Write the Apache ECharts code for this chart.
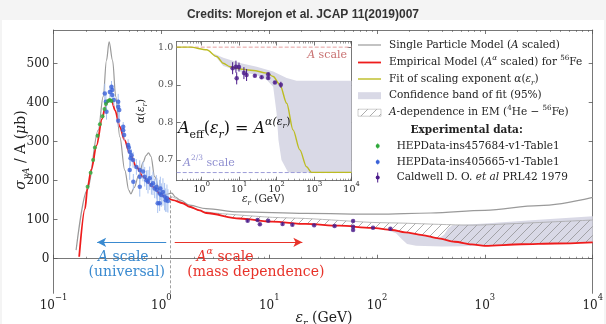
<!DOCTYPE html>
<html><head><meta charset="utf-8">
<script src="https://cdn.jsdelivr.net/npm/echarts@6/dist/echarts.min.js"></script>
<style>html,body{margin:0;padding:0;background:#f4f4f4}#c{position:relative;width:606px;height:324px}</style>
</head><body><div id="c"></div>
<script>
// ---------------- data ----------------
const redE = [0.173,0.196,0.207,0.224,0.251,0.282,0.302,0.316,0.328,0.347,0.372,0.412,0.455,0.509,0.588,0.676,0.837,0.964,1.11,1.28,1.58,1.83,2.26,2.6,5.28,10.7,21.9,44.7,89.1,138,182,263,372,525,759,1000,2188,4467,10000];
const redV = [5,128,183,228,290,358,388,401,408,404,380,338,304,270,235,210,184,167,157,150,142,133,124,117,103,95,89,84.5,79,73.5,67.5,60.6,52,43.5,36.8,33,37,39,42];
const spmE = [0.162,0.206,0.26,0.289,0.31,0.328,0.353,0.378,0.412,0.458,0.50,0.521,0.56,0.62,0.68,0.72,0.76,0.80,0.867,0.964,1.11,1.25,1.35,1.5,1.83,2.6,5.25,21.9,100,316,1000,3162,10000];
const spmV = [22,176,329,415,508,555,508,415,312,227,175,166,182,215,248,264,271,262,210,176,165,168,158,150,137,128,120,116,114,117,124,136,157];
const heE = [1.21,1.3,1.41,1.82,2.57,5.25,10.7,21.9,44.7,89.1,182,372,759,1585,3981,10000];
const heV = [160,157,152,133,120,112,106,103,98,93,91,88,86,89,94,99];
const confUpE = [89.1,138,182,263,372,420,457,500,759,1000,3162,10000];
const confUpV = [79,74,68,61,52,62,78,86,88,90,100,109];
const confLoE = [89.1,120,150,170,190,230,400,630,900,1000,2188,4467,10000];
const confLoV = [79,75,65,50,38,33,31,32,34,33,37,39,42];
const greenE = [0.207,0.221,0.233,0.242,0.256,0.269,0.285,0.297,0.306,0.321,0.333,0.345];
const greenV = [184,220,253,285,315,344,365,383,396,404,406,404];
const greenErr = [5,5,5,5,5,5,5,5,5,5,5,5];
const blueE = [0.299,0.306,0.310,0.333,0.345,0.350,0.350,0.363,0.398,0.398,0.407,0.398,0.443,0.443,0.452,0.492,0.499,0.509,0.518,0.528,0.547,0.550,0.509,0.587,0.631,0.631,0.631,0.676,0.701,0.728,0.752,0.780,0.809,0.836,0.867,0.899,0.912,0.925,0.964,0.979,1.0,1.035,1.072,1.096,1.127,1.151,0.964];
const blueV = [423,402,376,427,440,432,419,406,402,389,381,353,338,329,317,291,285,274,257,265,253,197,227,235,227,210,184,223,210,201,197,206,189,193,180,184,176,142,167,180,163,171,159,150,155,148,142];
const blueErr = [25,20,20,15,15,12,12,15,20,20,25,15,12,12,15,15,12,15,20,15,20,20,25,20,25,20,25,25,25,25,30,30,25,30,25,30,30,25,35,30,30,35,35,30,35,30,20];
const caldE = [6.31,7.80,8.20,9.79,13.3,16.4,26.1,40.4,60,60,60,91.8,133];
const caldV = [97,99,88,97,89,87,85.5,83.7,96.5,82,73.5,79,77];
const caldErr = [3,3,3,3,3,3,2,2,2,2,2,2,2];
const arrowBlue = [[1.11,42],[0.254,42]];
const arrowRed = [[1.33,42],[20.3,42]];
const thresholdE = 1.21; const thresholdTop = 175;
// Inset: scaling exponent alpha(E)
const fitE = [0.215,0.49,1.36,2.51,3.77,5.69,10.5,23.8,54,81,123,186,275,417,631,851,10000];
const fitV = [1.0,1.0,0.993,0.975,0.957,0.948,0.942,0.938,0.931,0.922,0.900,0.851,0.780,0.727,0.682,0.667,0.667];
const bandUpE = [2.0,3.77,10.5,29.5,81,186,339,10000];
const bandUpV = [0.984,0.972,0.958,0.948,0.935,0.918,0.911,0.911];
const bandLoE = [2.0,3.77,10.5,29.5,54,81,100,112,135,204,10000];
const bandLoV = [0.984,0.95,0.935,0.926,0.913,0.895,0.824,0.753,0.70,0.667,0.667];
const alphaE = [6.7,8.2,8.6,9.9,13.4,15.8,26.3,39.8,59.7,59.7,90.2,130];
const alphaV = [0.944,0.948,0.917,0.947,0.931,0.926,0.924,0.920,0.928,0.918,0.906,0.900];
const alphaErr = [0.016,0.016,0.016,0.012,0.016,0.016,0.004,0.004,0.004,0.004,0.004,0.008];
const refLevels = [1.0, 2/3];
// ticks
const mainYTicks = [0,100,200,300,400,500];
const mainXTicks = [0.1,1,10,100,1000,10000];
const insetXTicks = [1,10,100,1000,10000];
const insetYTicks = [0.7,0.8,0.9,1.0];

// ---------------- helpers ----------------
const F = 'DejaVu Serif';
const zip = (a,b,c) => a.map((v,i)=> c ? [v,b[i],c[i]] : [v,b[i]]);
function minorList(lo, hi){ const out=[]; for(let d=-2; d<5; d++){ for(let k=2;k<10;k++){ const v=k*Math.pow(10,d); if(v>lo && v<hi) out.push(+v.toPrecision(3)); } } return out; }
function hatchCanvas(){
  const c=document.createElement('canvas'); c.width=9; c.height=9;
  const g=c.getContext('2d'); g.strokeStyle='#8a8a8a'; g.lineWidth=0.7;
  g.beginPath(); g.moveTo(0,9); g.lineTo(9,0); g.moveTo(-1,1); g.lineTo(1,-1); g.moveTo(8,10); g.lineTo(10,8); g.stroke();
  return c;
}
const hatch = {image: hatchCanvas(), repeat: 'repeat'};
function bandRender(upE, upV, loE, loV, style){
  return function(params, api){
    if (params.dataIndex !== 0) return null;
    const pts=[];
    for (let i=0;i<upE.length;i++) pts.push(api.coord([upE[i], upV[i]]));
    for (let i=loE.length-1;i>=0;i--) pts.push(api.coord([loE[i], loV[i]]));
    return {type:'polygon', shape:{points:pts}, style: style, silent:true};
  };
}
function errRender(color, w){
  return function(params, api){
    const x=api.value(0), y=api.value(1), e=api.value(2);
    const p1=api.coord([x,y-e]), p2=api.coord([x,y+e]);
    return {type:'line', shape:{x1:p1[0],y1:p1[1],x2:p2[0],y2:p2[1]}, style:{stroke:color, lineWidth:w}, silent:true};
  };
}
function rich(fs, color){
  const base = {fontFamily:F, color:color, fill:color};
  return {
    n: Object.assign({fontSize:fs, lineHeight:fs*1.5, verticalAlign:'middle'}, base),
    i: Object.assign({fontSize:fs, lineHeight:fs*1.5, verticalAlign:'middle', fontStyle:'italic'}, base),
    b: Object.assign({fontSize:fs, lineHeight:fs*1.5, verticalAlign:'middle', fontWeight:'bold'}, base),
    sp: Object.assign({fontSize:fs*0.68, lineHeight:fs*0.68, verticalAlign:'top'}, base),
    spi: Object.assign({fontSize:fs*0.68, lineHeight:fs*0.68, verticalAlign:'top', fontStyle:'italic'}, base),
    spr: Object.assign({fontSize:fs*0.5, lineHeight:fs*0.5, verticalAlign:'top', padding:[fs*0.3,0,0,0], fontStyle:'italic'}, base),
    sb: Object.assign({fontSize:fs*0.68, lineHeight:fs*0.68, verticalAlign:'bottom'}, base),
    sbi: Object.assign({fontSize:fs*0.68, lineHeight:fs*0.68, verticalAlign:'bottom', fontStyle:'italic'}, base)
  };
}
function txt(x, y, text, fs, color, align, extra){
  return Object.assign({type:'text', x:x, y:y, z:100, silent:true, style:{text:text, rich:rich(fs,color), fill:color,
    fontSize:fs, fontFamily:F, align:align||'left', verticalAlign:'middle', textAlign:align||'left', textVerticalAlign:'middle'}}, extra||{});
}
const expLabel = v => { const e=Math.round(Math.log10(v)); return '{b|10}{s|'+(e<0?'\u2212'+(-e):e)+'}'; };
function xRich(fs){ return {b:{fontSize:fs, fontFamily:F, color:'#222', lineHeight:fs*1.45, verticalAlign:'bottom'}, s:{fontSize:fs*0.7, fontFamily:F, color:'#222', lineHeight:fs*0.7, verticalAlign:'top'}}; }

const AX = '#555';
function logAxis(grid, pos, min, max, majors, minors, showLabel, fs, margin){
  const out = [];
  out.push({type:'log', logBase:10, gridIndex:grid, position:pos, min:min, max:max,
    axisLine:{show:true, lineStyle:{color:AX, width:0.8}},
    axisTick:{show:true, inside:true, length:4, customValues:majors, lineStyle:{color:AX, width:0.8}},
    axisLabel:{show:showLabel, customValues:majors, margin:margin, formatter:expLabel, rich:xRich(fs)},
    splitLine:{show:false}, minorTick:{show:false}});
  out.push({type:'log', logBase:10, gridIndex:grid, position:pos, min:min, max:max,
    axisLine:{show:false}, axisTick:{show:true, inside:true, length:2, customValues:minors, lineStyle:{color:AX, width:0.6}},
    axisLabel:{show:false}, splitLine:{show:false}});
  return out;
}
function valAxis(grid, pos, min, max, ticks, showLabel, fs, fmt, extra){
  return Object.assign({type:'value', gridIndex:grid, position:pos, min:min, max:max,
    axisLine:{show:true, lineStyle:{color:AX, width:0.8}},
    axisTick:{show:true, inside:true, length:4, customValues:ticks, lineStyle:{color:AX, width:0.8}},
    axisLabel:{show:showLabel, customValues:ticks, margin:4, fontFamily:F, fontSize:fs, color:'#222', formatter:fmt, hideOverlap:false},
    splitLine:{show:false}}, extra||{});
}

const mainMin = minorList(0.1, 10000), insetMin = minorList(0.215, 10000);
const xAxes = [].concat(
  logAxis(0,'bottom',0.1,10000,mainXTicks,mainMin,true,12,1),
  logAxis(0,'top',0.1,10000,mainXTicks,mainMin,false,11,1),
  logAxis(1,'bottom',0.215,10000,insetXTicks,insetMin,true,9.5,0),
  logAxis(1,'top',0.215,10000,insetXTicks,insetMin,false,9,0)
);
const alphaName = {name:'{i|\u03b1}{n|(}{i|\u03b5}{sbi|r}{n|)}', nameLocation:'middle', nameGap:28, nameRotate:90,
  nameTextStyle:{rich:rich(10.5,'#222'), color:'#222', fontFamily:F}};
const yAxes = [
  valAxis(0,'left',-88.5,585.5,mainYTicks,true,12, v=>String(v)),
  valAxis(0,'right',-88.5,585.5,mainYTicks,false,11, v=>String(v)),
  valAxis(1,'left',0.645,1.015,insetYTicks,false,9.5, v=>v.toFixed(1), alphaName),
  valAxis(1,'right',0.645,1.015,insetYTicks,false,9, v=>v.toFixed(1))
];

const hatchStart = redE.findIndex(e => e >= 1.25);
const series = [
  {type:'custom', xAxisIndex:0, yAxisIndex:0, clip:true, z:1, silent:true, data:[[confUpE[0],confUpV[0]]], encode:{x:0,y:1},
   renderItem: bandRender(confUpE, confUpV, confLoE, confLoV, {fill:'#d9d9e6'})},
  {type:'custom', xAxisIndex:0, yAxisIndex:0, clip:true, z:2, silent:true, data:[[heE[0],heV[0]]], encode:{x:0,y:1},
   renderItem: bandRender(heE, heV, redE.slice(hatchStart), redV.slice(hatchStart), {fill:hatch})},
  {type:'line', xAxisIndex:0, yAxisIndex:0, data:zip(heE,heV), showSymbol:false, smooth:0.3, z:3,
   lineStyle:{color:'#a8a8a8', width:0.8}},
  {type:'line', xAxisIndex:0, yAxisIndex:0, data:zip(spmE,spmV), showSymbol:false, smooth:0.35, smoothMonotone:'x', z:3,
   lineStyle:{color:'#9a9a9a', width:1.2}},
  {type:'line', xAxisIndex:0, yAxisIndex:0, data:zip(redE,redV), showSymbol:false, smooth:0.3, smoothMonotone:'x', z:4,
   lineStyle:{color:'#ee1c1c', width:1.8},
   markLine:{silent:true, animation:false, label:{show:false}, data:[
     [{coord:arrowBlue[0], symbol:'none', lineStyle:{color:'#3a8ad0', width:1.2, type:'solid'}}, {coord:arrowBlue[1], symbol:'arrow', symbolSize:[7,9]}],
     [{coord:arrowRed[0], symbol:'none', lineStyle:{color:'#e8332a', width:1.2, type:'solid'}}, {coord:arrowRed[1], symbol:'arrow', symbolSize:[7,9]}],
     [{coord:[thresholdE,-88.5], symbol:'none', lineStyle:{color:'#a0a0a0', width:1, type:[3,2]}}, {coord:[thresholdE,thresholdTop], symbol:'none'}]
   ]}},
  {type:'custom', xAxisIndex:0, yAxisIndex:0, z:5, data:zip(blueE,blueV,blueErr), encode:{x:0,y:1}, renderItem:errRender('#a9c2f0',1)},
  {type:'scatter', xAxisIndex:0, yAxisIndex:0, z:6, data:zip(blueE,blueV), symbolSize:4.5, itemStyle:{color:'#3b62d8'}},
  {type:'custom', xAxisIndex:0, yAxisIndex:0, z:5, data:zip(greenE,greenV,greenErr), encode:{x:0,y:1}, renderItem:errRender('#8fd48f',1)},
  {type:'scatter', xAxisIndex:0, yAxisIndex:0, z:6, data:zip(greenE,greenV), symbolSize:4, itemStyle:{color:'#2ea83a'}},
  {type:'custom', xAxisIndex:0, yAxisIndex:0, z:5, data:zip(caldE,caldV,caldErr), encode:{x:0,y:1}, renderItem:errRender('#4b1a8a',1)},
  {type:'scatter', xAxisIndex:0, yAxisIndex:0, z:6, data:zip(caldE,caldV), symbolSize:4.5, itemStyle:{color:'#4b1a8a'}},
  // inset
  {type:'custom', xAxisIndex:4, yAxisIndex:2, clip:true, z:1, silent:true, data:[[bandUpE[0],bandUpV[0]]], encode:{x:0,y:1},
   renderItem: bandRender(bandUpE, bandUpV, bandLoE, bandLoV, {fill:'#d9d9e6'})},
  {type:'line', xAxisIndex:4, yAxisIndex:2, data:[[0.215,refLevels[0]],[10000,refLevels[0]]], showSymbol:false, z:3,
   lineStyle:{color:'#e6a0a0', width:1, type:[4,2]}},
  {type:'line', xAxisIndex:4, yAxisIndex:2, data:[[0.215,refLevels[1]],[10000,refLevels[1]]], showSymbol:false, z:3,
   lineStyle:{color:'#9c9cd8', width:1, type:[4,2]}},
  {type:'line', xAxisIndex:4, yAxisIndex:2, data:zip(fitE,fitV), showSymbol:false, smooth:0.3, smoothMonotone:'x', z:4,
   lineStyle:{color:'#bcbc22', width:1.4}},
  {type:'custom', xAxisIndex:4, yAxisIndex:2, z:5, data:zip(alphaE,alphaV,alphaErr), encode:{x:0,y:1}, renderItem:errRender('#4b1a8a',1)},
  {type:'scatter', xAxisIndex:4, yAxisIndex:2, z:6, data:zip(alphaE,alphaV), symbolSize:4.5, itemStyle:{color:'#4b1a8a'}},
  // inset y tick labels as labels of invisible points at the left edge of the inset axis
  {type:'scatter', xAxisIndex:4, yAxisIndex:2, z:20, silent:true, clip:false, symbolSize:1, itemStyle:{color:'rgba(0,0,0,0)'},
   data: insetYTicks.map(v => [0.215, v]),
   label:{show:true, position:'left', distance:3, formatter: p => p.value[1].toFixed(1), fontFamily:F, fontSize:9.5, color:'#222'},
   labelLayout:{hideOverlap:false}}
];

// legend (drawn with graphic elements)
const LX0=358, LX1=381, LT=389, LT2=396.7, LMX=377.7;
const rows=[45,62.5,79,95.7,112.7,130,146,162,177.5];
const g = [];
g.push({type:'rect', z:-10, silent:true, shape:{x:2,y:20,width:602,height:304}, style:{fill:'#ffffff'}});
g.push({type:'line', z:100, silent:true, shape:{x1:LX0,y1:rows[0],x2:LX1,y2:rows[0]}, style:{stroke:'#9a9a9a', lineWidth:1.2}});
g.push({type:'line', z:100, silent:true, shape:{x1:LX0,y1:rows[1],x2:LX1,y2:rows[1]}, style:{stroke:'#ee1c1c', lineWidth:1.8}});
g.push({type:'line', z:100, silent:true, shape:{x1:LX0,y1:rows[2],x2:LX1,y2:rows[2]}, style:{stroke:'#bcbc22', lineWidth:1.4}});
g.push({type:'rect', z:100, silent:true, shape:{x:LX0,y:rows[3]-3.5,width:23,height:7}, style:{fill:'#d9d9e6'}});
g.push({type:'rect', z:100, silent:true, shape:{x:LX0,y:rows[4]-3.5,width:23,height:7}, style:{fill:hatch, stroke:'#b0b0b0', lineWidth:0.6}});
[['#2ea83a','#8fd48f',rows[6],3],['#3b62d8','#a9c2f0',rows[7],3],['#4b1a8a','#4b1a8a',rows[8],5]].forEach(m=>{
  g.push({type:'line', z:100, silent:true, shape:{x1:LMX,y1:m[2]-m[3],x2:LMX,y2:m[2]+m[3]}, style:{stroke:m[1], lineWidth:1}});
  g.push({type:'circle', z:101, silent:true, shape:{cx:LMX,cy:m[2],r:2}, style:{fill:m[0]}});
});
const LFS=10.5, LC='#222';
g.push(txt(LT, rows[0], '{n|Single Particle Model (}{i|A}{n| scaled)}', LFS, LC));
g.push(txt(LT, rows[1], '{n|Empirical Model (}{i|A}{spi|\u03b1}{n| scaled) for }{sp|56}{n|Fe}', LFS, LC));
g.push(txt(LT, rows[2], '{n|Fit of scaling exponent }{i|\u03b1}{n|(}{i|\u03b5}{sbi|r}{n|)}', LFS, LC));
g.push(txt(LT, rows[3], '{n|Confidence band of fit (95%)}', LFS, LC));
g.push(txt(LT, rows[4], '{i|A}{n|-dependence in EM (}{sp|4}{n|He \u2212 }{sp|56}{n|Fe)}', LFS, LC));
g.push(txt(466.7, rows[5], '{b|Experimental data:}', LFS, LC, 'center'));
g.push(txt(LT2, rows[6], '{n|HEPData-ins457684-v1-Table1}', LFS, LC));
g.push(txt(LT2, rows[7], '{n|HEPData-ins405665-v1-Table1}', LFS, LC));
g.push(txt(LT2, rows[8], '{n|Caldwell D. O. }{i|et al}{n| PRL42 1979}', LFS, LC));
// annotations in main panel
g.push(txt(123.3, 257, '{i|A}{n| scale}', 14, '#3a8ad0', 'center'));
g.push(txt(126.7, 272, '{n|(universal)}', 14, '#3a8ad0', 'center'));
g.push(txt(225, 257, '{i|A}{spi|\u03b1}{n| scale}', 14, '#e8332a', 'center'));
g.push(txt(255.8, 272, '{n|(mass dependence)}', 14, '#e8332a', 'center'));
// inset annotations
g.push(txt(347, 55, '{i|A}{n| scale}', 11, '#c87070', 'right'));
g.push(txt(183, 163, '{i|A}{sp|2/3}{n| scale}', 11, '#8f8fd0', 'left'));
g.push(txt(178, 129, '{i|A}{sb|eff}{n|(}{i|\u03b5}{sbi|r}{n|) = }{i|A}{spi|\u03b1(\u03b5}{spr|r}{sp|)}', 16, '#111', 'left'));
// axis titles
g.push(txt(263.3, 199, '{i|\u03b5}{sbi|r}{n| (GeV)}', 10.5, '#222', 'center'));
g.push(txt(324, 318, '{i|\u03b5}{sbi|r}{n| (GeV)}', 14, '#222', 'center'));
g.push(txt(21, 150, '{i|\u03c3}{sbi|\u03b3A}{n| / A (}{i|\u03bc}{n|b)}', 14, '#222', 'center', {rotation:Math.PI/2}));

const chart = echarts.init(document.getElementById('c'), null, {renderer:'canvas', width:606, height:324});
chart.setOption({
  animation:false,
  backgroundColor:'#f4f4f4',
  title:{text:'Credits: Morejon et al. JCAP 11(2019)007', left:'center', top:4,
    textStyle:{fontSize:12, fontWeight:'bold', color:'#333', fontFamily:'Liberation Sans'}},
  grid:[
    {left:53.5, top:30, width:541.5, height:263.3, show:false},
    {left:176.7, top:41.5, width:174.8, height:139.2, show:true, backgroundColor:'#ffffff', borderWidth:0}
  ],
  xAxis: xAxes, yAxis: yAxes, series: series, graphic: g
});
</script></body></html>
